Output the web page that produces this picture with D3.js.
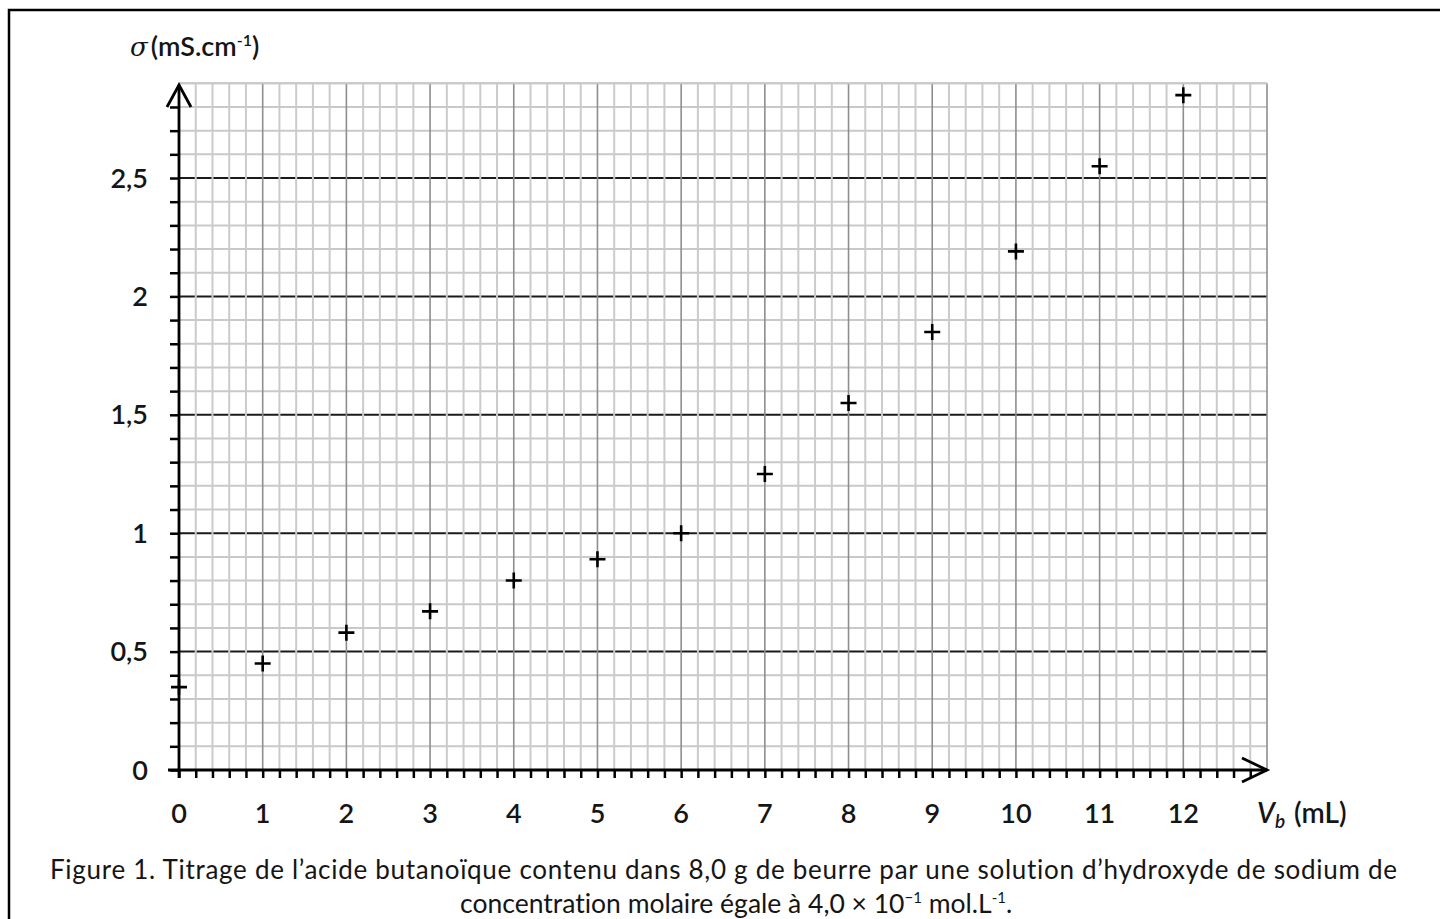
<!DOCTYPE html>
<html><head><meta charset="utf-8">
<script src="https://cdn.jsdelivr.net/npm/d3@7"></script>
<style>
html,body{margin:0;padding:0;background:#fff;overflow:hidden}
text{font-family:Lato,"Open Sans",sans-serif;fill:#151515;font-variant-ligatures:none}
</style></head>
<body>
<script>
const volumes = [0,1,2,3,4,5,6,7,8,9,10,11,12];
const conductivity = [0.35,0.45,0.58,0.67,0.80,0.89,1.00,1.25,1.55,1.85,2.19,2.55,2.85];
const xTickValues = [0,1,2,3,4,5,6,7,8,9,10,11,12];
const yTickValues = [0,0.5,1,1.5,2,2.5];
const yTickLabels = ["0","0,5","1","1,5","2","2,5"];

const W=1440,H=919;
const svg=d3.select("body").append("svg").attr("width",W).attr("height",H);

const x=d3.scaleLinear().domain([0,13]).range([179,1267]);
const y=d3.scaleLinear().domain([0,2.9]).range([770,83.3]);

// frame
svg.append("rect").attr("x",9).attr("y",10).attr("width",1460).attr("height",940)
  .attr("fill","none").attr("stroke","#000").attr("stroke-width",2.5);

const g=svg.append("g");
// horizontal grid
const hMinor=d3.range(0,30).map(i=>i/10);
g.selectAll(".hm").data(hMinor.filter(v=>Math.round(v*10)%5!==0)).join("line")
  .attr("x1",x(0)).attr("x2",x(13)).attr("y1",d=>y(d)).attr("y2",d=>y(d))
  .attr("stroke","#c9c9c9").attr("stroke-width",2);
g.selectAll(".hM").data(hMinor.filter(v=>Math.round(v*10)%5===0 && v>0)).join("line")
  .attr("x1",x(0)).attr("x2",x(13)).attr("y1",d=>y(d)).attr("y2",d=>y(d))
  .attr("stroke","#1a1a1a").attr("stroke-width",2);
// vertical grid
const vAll=d3.range(0,66).map(i=>i/5);
g.selectAll(".vm").data(vAll.filter(v=>Math.round(v*5)%5!==0)).join("line")
  .attr("x1",d=>x(d)).attr("x2",d=>x(d)).attr("y1",y(0)).attr("y2",y(2.9))
  .attr("stroke","#cbcbcb").attr("stroke-width",2);
g.selectAll(".vM").data(vAll.filter(v=>Math.round(v*5)%5===0 && v>0)).join("line")
  .attr("x1",d=>x(d)).attr("x2",d=>x(d)).attr("y1",y(0)).attr("y2",y(2.9))
  .attr("stroke","#8e8e8e").attr("stroke-width",1.6);
g.append("line").attr("x1",x(0)).attr("x2",x(13)).attr("y1",y(2.9)).attr("y2",y(2.9))
  .attr("stroke","#c9c9c9").attr("stroke-width",2);

// axes ticks via D3 axis generators
const xAxis=d3.axisBottom(x).tickValues(d3.range(0,65).map(i=>i/5)).tickSize(8).tickFormat("");
const xa=svg.append("g").attr("transform",`translate(0,${y(0)})`).call(xAxis);
xa.select(".domain").remove();
xa.selectAll("line").attr("stroke","#000").attr("stroke-width",2.5);

const yAxis=d3.axisLeft(y).tickValues(d3.range(0,29).map(i=>i/10)).tickSize(9).tickFormat("");
const ya=svg.append("g").attr("transform",`translate(${x(0)},0)`).call(yAxis);
ya.select(".domain").remove();
ya.selectAll("line").attr("stroke","#000").attr("stroke-width",2.5);

// axis lines
svg.append("line").attr("x1",168).attr("x2",x(13)).attr("y1",y(0)).attr("y2",y(0))
  .attr("stroke","#000").attr("stroke-width",2.8);
svg.append("line").attr("x1",x(0)).attr("x2",x(0)).attr("y1",y(0)+8).attr("y2",85)
  .attr("stroke","#000").attr("stroke-width",2.8);
// arrows
svg.append("path").attr("d",`M${x(0)-12},107 L${x(0)},85 L${x(0)+12},107`)
  .attr("fill","none").attr("stroke","#000").attr("stroke-width",2.8);
svg.append("path").attr("d",`M${x(13)-25},${y(0)-12} L${x(13)},${y(0)} L${x(13)-25},${y(0)+12}`)
  .attr("fill","none").attr("stroke","#000").attr("stroke-width",2.8);

// tick labels
svg.selectAll(".xl").data(xTickValues).join("text")
  .attr("x",d=>x(d)).attr("y",823).attr("text-anchor","middle")
  .attr("font-size",27).attr("font-weight",600).text(d=>d);
svg.selectAll(".yl").data(yTickValues).join("text")
  .attr("x",148).attr("y",d=>y(d)+9.5).attr("text-anchor","end")
  .attr("font-size",27).attr("font-weight",600).text((d,i)=>yTickLabels[i]);

// axis titles
const yt=svg.append("text").attr("x",130).attr("y",56).attr("font-size",27).attr("font-weight",600);
yt.append("tspan").attr("font-style","italic").attr("font-family","DejaVu Serif").attr("font-weight",400).attr("font-size",26).text("σ");
yt.append("tspan").attr("dx",3).text("(mS.cm");
yt.append("tspan").attr("dy",-10).attr("font-size",16).text("-1");
yt.append("tspan").attr("dy",10).text(")");

const xt=svg.append("text").attr("x",1257).attr("y",823).attr("font-size",28).attr("font-weight",600);
xt.append("tspan").attr("font-style","italic").text("V");
xt.append("tspan").attr("font-style","italic").attr("dy",5).attr("font-size",19).text("b");
xt.append("tspan").attr("dy",-5).attr("dx",9).text("(mL)");

// data markers
svg.selectAll(".pt").data(volumes).join("path")
  .attr("d",(d,i)=>{const cx=x(d),cy=y(conductivity[i]);return `M${cx-8},${cy}H${cx+8}M${cx},${cy-8}V${cy+8}`;})
  .attr("stroke","#000").attr("stroke-width",2.6).attr("fill","none");

// caption
svg.append("text").attr("x",50).attr("y",879).attr("font-size",26)
  .attr("textLength",1347).attr("lengthAdjust","spacing")
  .text("Figure 1. Titrage de l’acide butanoïque contenu dans 8,0 g de beurre par une solution d’hydroxyde de sodium de");
const c2=svg.append("text").attr("x",460).attr("y",913).attr("font-size",26.5);
c2.append("tspan").text("concentration molaire égale à 4,0 × 10");
c2.append("tspan").attr("dy",-10).attr("font-size",15).text("−1");
c2.append("tspan").attr("dy",10).text(" mol.L");
c2.append("tspan").attr("dy",-10).attr("font-size",15).text("-1");
c2.append("tspan").attr("dy",10).text(".");
</script>
</body></html>
